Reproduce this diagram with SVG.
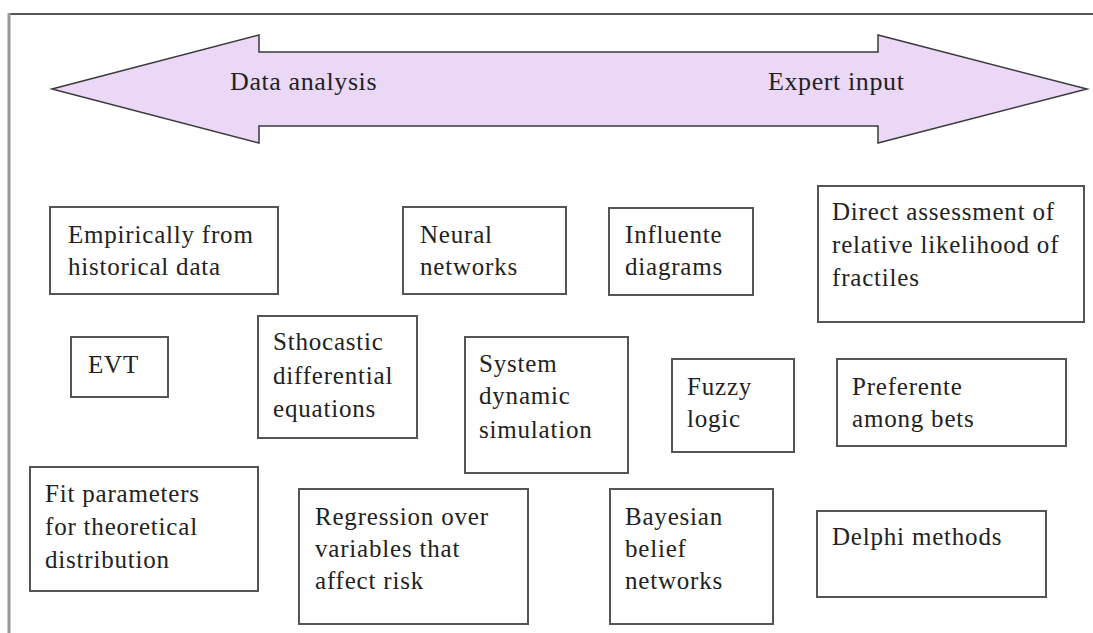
<svg xmlns="http://www.w3.org/2000/svg" width="1093" height="633" viewBox="0 0 1093 633">
<style>
.box{fill:#ffffff;stroke:#555555;stroke-width:2}
.t{font-family:"Liberation Serif","Times New Roman",serif;font-size:25px;fill:#222222;letter-spacing:0.8px}
.a{font-family:"Liberation Serif","Times New Roman",serif;font-size:26px;fill:#222222;letter-spacing:0.6px}
</style>
<rect x="0" y="0" width="1093" height="633" fill="#ffffff"/>
<g id="frame">
<line x1="9" y1="14" x2="1093" y2="14" stroke="#555555" stroke-width="2"/>
<line x1="9" y1="13" x2="9" y2="633" stroke="#999999" stroke-width="3"/>
</g>
<g id="arrow">
<polygon points="52,89 259,35 259,52 878,52 878,35 1087,89 878,143 878,126 259,126 259,143" fill="#ebd8f7" stroke="#3a3a3a" stroke-width="1.5"/>
<text class="a" x="230" y="90">Data analysis</text>
<text class="a" x="768" y="90">Expert input</text>
</g>
<g id="connectors"></g>
<g id="n-empirical">
<rect class="box" x="50" y="207" width="228" height="87"/>
<text class="t" x="68" y="243">Empirically from</text>
<text class="t" x="68" y="275">historical data</text>
</g>
<g id="n-neural">
<rect class="box" x="403" y="207" width="163" height="87"/>
<text class="t" x="420" y="243">Neural</text>
<text class="t" x="420" y="275">networks</text>
</g>
<g id="n-influente">
<rect class="box" x="609" y="208" width="144" height="87"/>
<text class="t" x="625" y="243">Influente</text>
<text class="t" x="625" y="275">diagrams</text>
</g>
<g id="n-direct">
<rect class="box" x="818" y="186" width="266" height="136"/>
<text class="t" x="832" y="220">Direct assessment of</text>
<text class="t" x="832" y="253">relative likelihood of</text>
<text class="t" x="832" y="286">fractiles</text>
</g>
<g id="n-evt">
<rect class="box" x="71" y="337" width="97" height="60"/>
<text class="t" x="88" y="373">EVT</text>
</g>
<g id="n-sthocastic">
<rect class="box" x="258" y="316" width="159" height="122"/>
<text class="t" x="273" y="350">Sthocastic</text>
<text class="t" x="273" y="384">differential</text>
<text class="t" x="273" y="417">equations</text>
</g>
<g id="n-system">
<rect class="box" x="465" y="337" width="163" height="136"/>
<text class="t" x="479" y="372">System</text>
<text class="t" x="479" y="404">dynamic</text>
<text class="t" x="479" y="438">simulation</text>
</g>
<g id="n-fuzzy">
<rect class="box" x="672" y="359" width="122" height="93"/>
<text class="t" x="687" y="395">Fuzzy</text>
<text class="t" x="687" y="427">logic</text>
</g>
<g id="n-preferente">
<rect class="box" x="837" y="359" width="229" height="87"/>
<text class="t" x="852" y="395">Preferente</text>
<text class="t" x="852" y="427">among bets</text>
</g>
<g id="n-fit">
<rect class="box" x="30" y="467" width="228" height="124"/>
<text class="t" x="45" y="502">Fit parameters</text>
<text class="t" x="45" y="535">for theoretical</text>
<text class="t" x="45" y="568">distribution</text>
</g>
<g id="n-regression">
<rect class="box" x="299" y="489" width="229" height="135"/>
<text class="t" x="315" y="525">Regression over</text>
<text class="t" x="315" y="557">variables that</text>
<text class="t" x="315" y="589">affect risk</text>
</g>
<g id="n-bayesian">
<rect class="box" x="610" y="489" width="163" height="135"/>
<text class="t" x="625" y="525">Bayesian</text>
<text class="t" x="625" y="557">belief</text>
<text class="t" x="625" y="589">networks</text>
</g>
<g id="n-delphi">
<rect class="box" x="817" y="511" width="229" height="86"/>
<text class="t" x="832" y="545">Delphi methods</text>
</g>
</svg>
